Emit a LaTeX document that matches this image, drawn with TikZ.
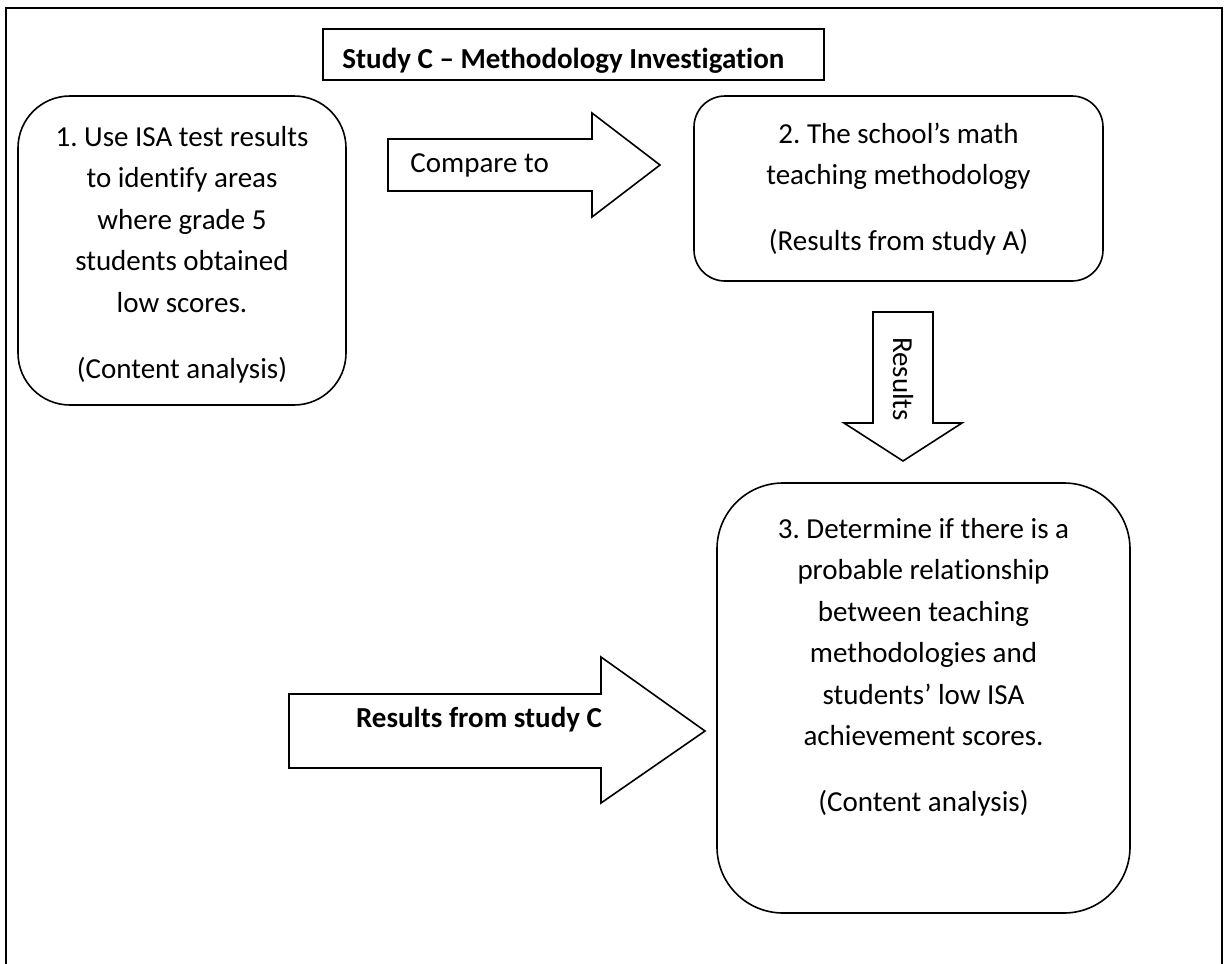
\documentclass[tikz,border=0pt]{standalone}
\usepackage{fontspec}
\setmainfont{Carlito}[Ligatures={TeX,NoCommon}]
\frenchspacing
\begin{document}
\begin{tikzpicture}[x=0.5pt,y=-0.5pt,
  framebox/.style={line width=1.1pt},
  titlebox/.style={draw, line width=0.9pt, inner sep=0pt},
  stepbox/.style={draw, line width=0.8pt, inner sep=0pt},
  blockarrow/.style={draw, line width=0.8pt, line join=miter},
  bodytext/.style={font=\fontsize{14.5}{20.75}\selectfont, align=center, inner sep=0pt, anchor=north},
  labeltext/.style={font=\fontsize{14.5}{20.75}\selectfont, inner sep=0pt}]
\useasboundingbox (0,0) rectangle (1228,964);

% outer frame, open at the bottom
\draw[framebox] (6,964) -- (6,8) -- (1222,8) -- (1222,964);

% title
\node[titlebox, minimum width=250.5pt, minimum height=25.5pt] (title) at (573.5,54.5) {};
\node[labeltext, font=\fontsize{14.5}{20.75}\selectfont\bfseries, anchor=base west] (titletext) at (342,68)
  {Study C – Methodology Investigation};

% step boxes
\node[stepbox, rounded corners=26pt, minimum width=164pt, minimum height=154.5pt] (s1) at (182,250.5) {};
\node[stepbox, rounded corners=15.5pt, minimum width=204.5pt, minimum height=92.5pt] (s2) at (898.5,188.5) {};
\node[stepbox, rounded corners=33pt, minimum width=206.5pt, minimum height=215pt] (s3) at (923.5,698) {};

\node[bodytext] (s1text) at (182,117)
  {\strut 1. Use ISA test results\\ to identify areas\\ where grade 5\\ students obtained\\ low scores.\\[12.25pt] (Content analysis)};
\node[bodytext] (s2text) at (898.5,114)
  {\strut 2. The school’s math\\ teaching methodology\\[12.25pt] (Results from study A)};
\node[bodytext] (s3text) at (923.5,509)
  {\strut 3. Determine if there is a\\ probable relationship\\ between teaching\\ methodologies and\\ students’ low ISA\\ achievement scores.\\[12.25pt] (Content analysis)};

% block arrows
\draw[blockarrow] (388,139) -- (592,139) -- (592,113) -- (660,165) -- (592,217) -- (592,191) -- (388,191) -- cycle;
\node[labeltext, anchor=base west] (cmp) at (410,172) {Compare to};

\draw[blockarrow] (873,312) -- (933,312) -- (933,423) -- (962,423) -- (903,461) -- (844,423) -- (873,423) -- cycle;
\node[labeltext, rotate=-90] (res) at (903,379) {Results};

\draw[blockarrow] (289,694) -- (601,694) -- (601,657) -- (705,731) -- (601,803) -- (601,768) -- (289,768) -- cycle;
\node[labeltext, font=\fontsize{14.5}{20.75}\selectfont\bfseries, anchor=base] (resc) at (479,727) {Results from study C};
\end{tikzpicture}
\end{document}
